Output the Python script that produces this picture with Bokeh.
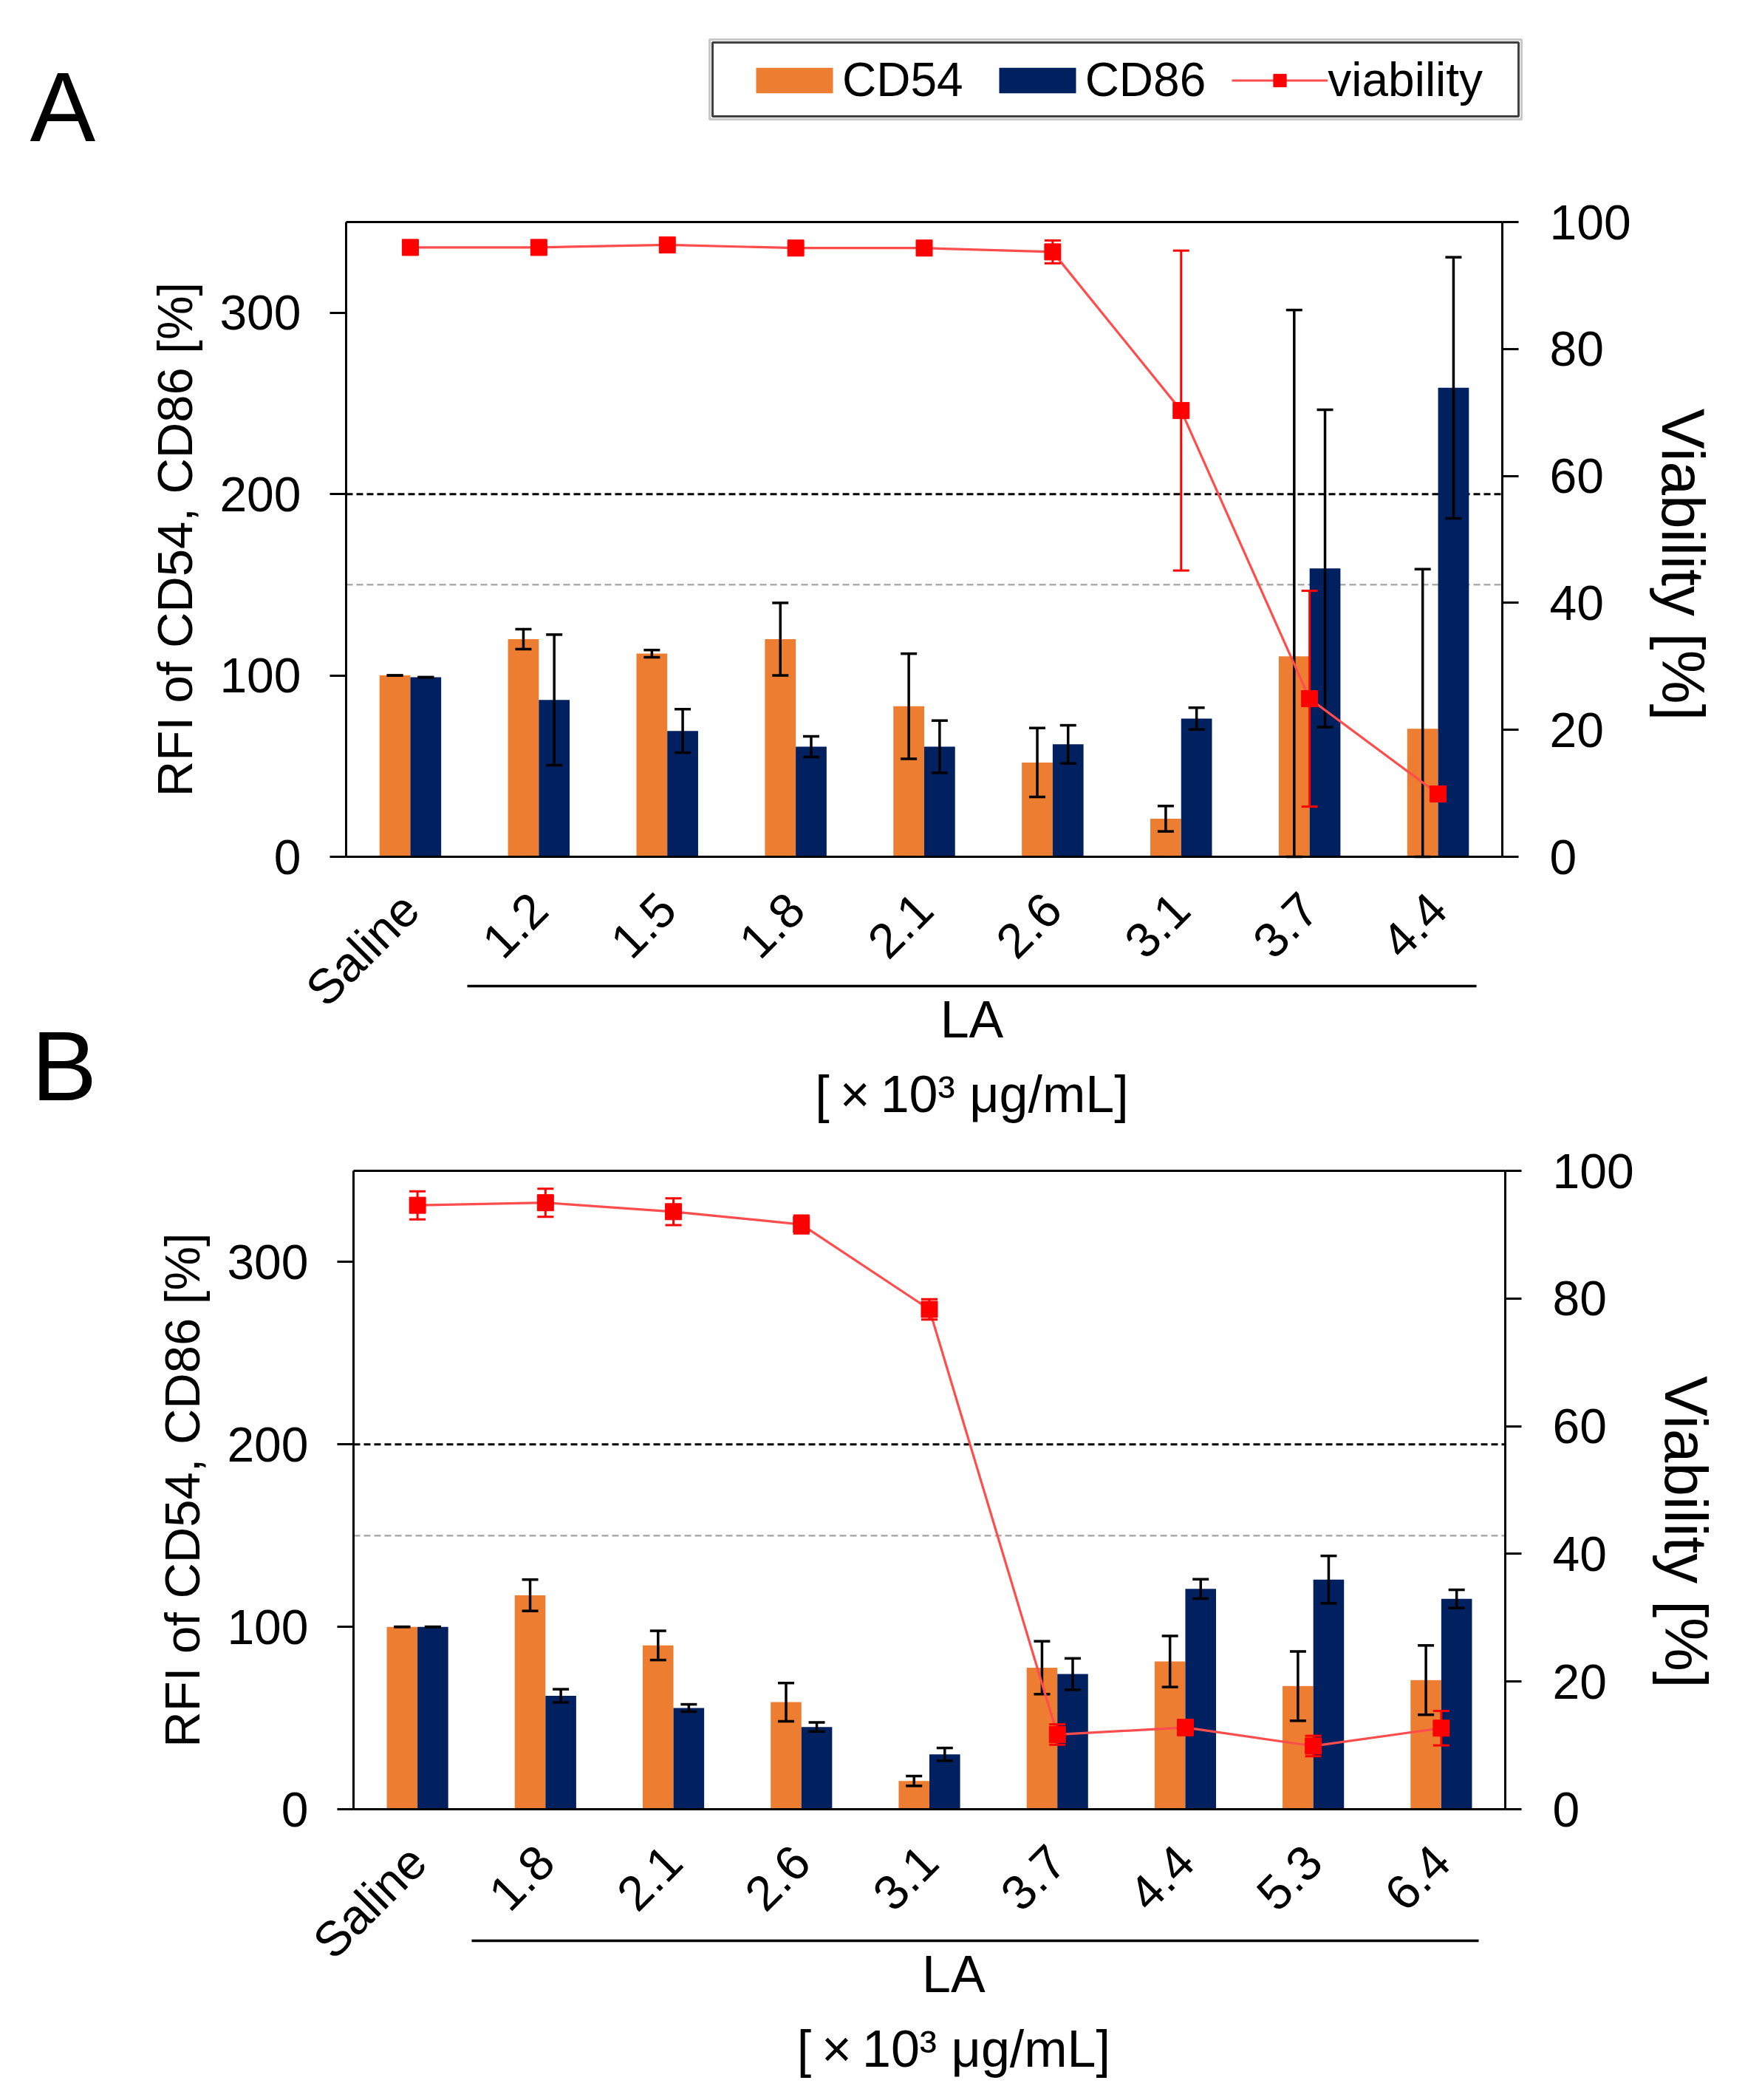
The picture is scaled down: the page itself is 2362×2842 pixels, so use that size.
import math
import numpy as np
from bokeh.plotting import figure
from bokeh.models import (Range1d, LinearAxis, FixedTicker, Whisker, TeeHead,
                          ColumnDataSource, Legend, LegendItem)
from bokeh.layouts import column
from bokeh.embed import file_html
from bokeh.resources import INLINE
from bokeh.core.properties import value

# ---------------- data ----------------
cats_A = ["Saline", "1.2", "1.5", "1.8", "2.1", "2.6", "3.1", "3.7", "4.4"]
cd54_A = [100, 120, 112, 120, 83, 52, 21, 110.5, 70.6]
cd54_err_A = [0, 5.5, 2, 20, 29, 19, 7, 191, 88]
cd86_A = [99, 86.5, 69.4, 60.7, 60.7, 62, 76.2, 159, 258.6]
cd86_err_A = [0, 36, 12, 5.7, 14.4, 10.5, 6, 87.5, 72]
via_A = [96.0, 96.0, 96.4, 95.9, 95.9, 95.3, 70.3, 24.9, 9.9]
via_err_A = [0.5, 0.5, 0.5, 0.5, 0.5, 1.8, 25.2, 17.0, 1.0]

cats_B = ["Saline", "1.8", "2.1", "2.6", "3.1", "3.7", "4.4", "5.3", "6.4"]
cd54_B = [100, 117.3, 89.8, 58.7, 15.5, 77.6, 81.0, 67.5, 70.8]
cd54_err_B = [0, 8.6, 8, 10.5, 2.7, 14.5, 14, 19, 19]
cd86_B = [100, 62.2, 55.5, 45.1, 30.1, 74.1, 120.8, 125.9, 115.3]
cd86_err_B = [0, 3.6, 2, 2.5, 3.5, 8.6, 5.3, 13, 5]
via_B = [94.6, 95.0, 93.6, 91.6, 78.3, 11.7, 12.8, 9.9, 12.7]
via_err_B = [2.2, 2.2, 2.1, 1.4, 1.6, 1.6, 1.2, 1.6, 2.7]

thresholds = [200, 150]
left_ticks = [0, 100, 200, 300]
right_ticks = [0, 20, 40, 60, 80, 100]
legend_labels = ["CD54", "CD86", "viability"]
group_lines = ["LA", "[\u2009\u00d7\u200910\u00b3 \u03bcg/mL]"]
y_label = "RFI of CD54, CD86 [%]"
y2_label = "Viability [%]"

FONT = "Liberation Sans"
ORANGE = "#ED7D31"
NAVY = "#002060"
RED = "#FF0000"
LINE_RED = "#FF4D4D"
PAGE_W = 2354
ORIGIN = 0
NBSP = "\u00a0"


def make_panel(cats, cd54, e54, cd86, e86, via, evia, geo, letters,
               y2_pad=0, group_pad=0, legend=False):
    FL, FR, Y0, Y350, T, BOT, LINE_Y, LX0, LX1 = geo
    H = BOT - T
    sx = (FR - FL) / 9.0
    sy = (Y0 - Y350) / 350.0

    def xd(px):
        return (px - FL) / sx

    def yd(py):
        return (Y0 - py) / sy

    x_start, x_end = xd(ORIGIN), xd(ORIGIN + PAGE_W)
    y_start, y_end = yd(BOT), yd(T)

    p = figure(width=PAGE_W, height=H,
               x_range=Range1d(x_start, x_end), y_range=Range1d(y_start, y_end),
               output_backend="svg", toolbar_location=None, min_border=0,
               x_axis_type=None, y_axis_type=None, outline_line_color=None,
               background_fill_color="white", border_fill_color="white")
    p.extra_y_ranges = {"via": Range1d(y_start / 3.5, y_end / 3.5)}

    n = len(cats)
    xc = np.arange(n) + 0.5
    src = ColumnDataSource(dict(
        xc=xc, x54=xc - 0.12, x86=xc + 0.12,
        cd54=cd54, up54=[v + e for v, e in zip(cd54, e54)],
        lo54=[max(v - e, 0) for v, e in zip(cd54, e54)],
        cd86=cd86, up86=[v + e for v, e in zip(cd86, e86)],
        lo86=[max(v - e, 0) for v, e in zip(cd86, e86)],
        via=via, upv=[v + e for v, e in zip(via, evia)],
        lov=[v - e for v, e in zip(via, evia)],
    ))

    # threshold lines
    p.segment(x0=0, x1=9, y0=thresholds[0], y1=thresholds[0], line_color="black",
              line_width=3, line_dash="9 5")
    p.segment(x0=0, x1=9, y0=thresholds[1], y1=thresholds[1], line_color="#ABABAB",
              line_width=2.5, line_dash="9 5")

    r54 = p.vbar(x="x54", top="cd54", width=0.24, source=src,
                 fill_color=ORANGE, line_color=None)
    r86 = p.vbar(x="x86", top="cd86", width=0.24, source=src,
                 fill_color=NAVY, line_color=None)

    for base, up, lo in (("x54", "up54", "lo54"), ("x86", "up86", "lo86")):
        w = Whisker(source=src, base=base, upper=up, lower=lo,
                    line_color="black", line_width=3.5, level="annotation",
                    upper_head=TeeHead(size=22, line_color="black", line_width=3.5),
                    lower_head=TeeHead(size=22, line_color="black", line_width=3.5))
        p.add_layout(w)

    rl = p.line(x="xc", y="via", source=src, y_range_name="via",
                line_color=LINE_RED, line_width=3.2, level="overlay")
    wv = Whisker(source=src, base="xc", upper="upv", lower="lov", y_range_name="via",
                 line_color=RED, line_width=3, level="overlay",
                 upper_head=TeeHead(size=22, line_color=RED, line_width=3),
                 lower_head=TeeHead(size=22, line_color=RED, line_width=3))
    p.add_layout(wv)
    rs = p.scatter(x="xc", y="via", source=src, y_range_name="via", marker="square",
                   size=22, fill_color=RED, line_color=RED, level="overlay")

    def style(ax, size="66px"):
        ax.axis_line_color = "black"
        ax.axis_line_width = 3
        ax.major_tick_line_color = "black"
        ax.major_tick_line_width = 3
        ax.major_tick_out = 22
        ax.major_tick_in = 0
        ax.minor_tick_line_color = None
        ax.major_label_text_font = FONT
        ax.major_label_text_font_size = size
        ax.major_label_text_color = "black"
        ax.axis_label_text_font = FONT
        ax.axis_label_text_font_style = "normal"
        ax.axis_label_text_color = "black"

    # left axis
    la = LinearAxis(fixed_location=0, bounds=(0, 350), ticker=FixedTicker(ticks=left_ticks),
                    axis_label=y_label)
    style(la)
    la.major_label_standoff = 39
    la.axis_label_text_font_size = "67px"
    la.axis_label_standoff = 20
    p.add_layout(la, "left")

    # right axis
    ra = LinearAxis(fixed_location=9, y_range_name="via", bounds=(0, 100),
                    ticker=FixedTicker(ticks=right_ticks),
                    axis_label=NBSP * y2_pad + y2_label)
    style(ra)
    ra.major_label_standoff = 42
    ra.axis_label_text_font_size = "82px"
    ra.axis_label_standoff = 22
    p.add_layout(ra, "right")

    # bottom category axis
    ba = LinearAxis(fixed_location=0, bounds=(0, 9), ticker=FixedTicker(ticks=list(xc)),
                    major_label_overrides={float(x): c for x, c in zip(xc, cats)})
    style(ba, "66px")
    ba.major_tick_line_color = None
    ba.major_tick_out = 0
    ba.major_label_orientation = math.pi / 4
    ba.major_label_standoff = 60
    p.add_layout(ba, "below")

    # top frame line
    ta = LinearAxis(fixed_location=350, bounds=(0, 9), ticker=FixedTicker(ticks=[]))
    style(ta)
    ta.major_tick_line_color = None
    ta.major_label_text_font_size = "0px"
    p.add_layout(ta, "above")

    # group line with label
    glabel = "\n".join(s + NBSP * group_pad for s in group_lines)
    ga = LinearAxis(fixed_location=yd(LINE_Y), bounds=(xd(LX0), xd(LX1)),
                    ticker=FixedTicker(ticks=[]), axis_label=glabel)
    style(ga)
    ga.axis_line_width = 3.5
    ga.major_tick_line_color = None
    ga.major_label_text_font_size = "0px"
    ga.major_label_standoff = 0
    ga.axis_label_text_font_size = "70px"
    ga.axis_label_text_line_height = 1.3
    ga.axis_label_standoff = 6
    p.add_layout(ga, "below")

    # panel letters (baseline shifted to compensate for renderer offset)
    lx = [xd(px) for (_, px, _) in letters]
    ly = [yd(py - 50) for (_, _, py) in letters]
    lt = [t for (t, _, _) in letters]
    p.text(x=lx, y=ly, text=lt, text_font=value(FONT), text_font_size=value("133px"),
           text_baseline="alphabetic", text_align="left", text_color="black")

    if legend:
        bx0, bx1, by0, by1 = 964, 2055, 57, 157
        p.quad(left=[xd(bx0 - 4)], right=[xd(bx1 + 4)], top=[yd(by0 - 4)], bottom=[yd(by1 + 4)],
               fill_color="white", line_color="#C8C8C8", line_width=3)
        p.quad(left=[xd(bx0)], right=[xd(bx1)], top=[yd(by0)], bottom=[yd(by1)],
               fill_color="white", line_color="#404040", line_width=3)
        items = [LegendItem(label=legend_labels[0], renderers=[r54]),
                 LegendItem(label=legend_labels[1], renderers=[r86]),
                 LegendItem(label=legend_labels[2], renderers=[rl, rs])]
        lg = Legend(items=items, orientation="horizontal",
                    location=(1010 - ORIGIN, H - (145 - T)),
                    glyph_width=130, glyph_height=43, label_standoff=0, spacing=35,
                    padding=0, margin=0, background_fill_alpha=0, border_line_color=None,
                    label_text_font=FONT, label_text_font_size="64px",
                    label_text_color="black")
        p.add_layout(lg)
    return p


geoA = (468, 2033, 1159, 300, ORIGIN, 1530, 1334, 632, 1998)
geoB = (478, 2037, 2448, 1584, 1530, 2834, 2626, 638, 2001)

pA = make_panel(cats_A, cd54_A, cd54_err_A, cd86_A, cd86_err_A, via_A, via_err_A, geoA,
                [("A", 40, 194), ("B", 42, 1492)], y2_pad=3, group_pad=0, legend=True)
pB = make_panel(cats_B, cd54_B, cd54_err_B, cd86_B, cd86_err_B, via_B, via_err_B, geoB, [],
                y2_pad=5, group_pad=3)

layout = column(pA, pB, spacing=0)
open("out.html", "w").write(file_html(layout, INLINE))
